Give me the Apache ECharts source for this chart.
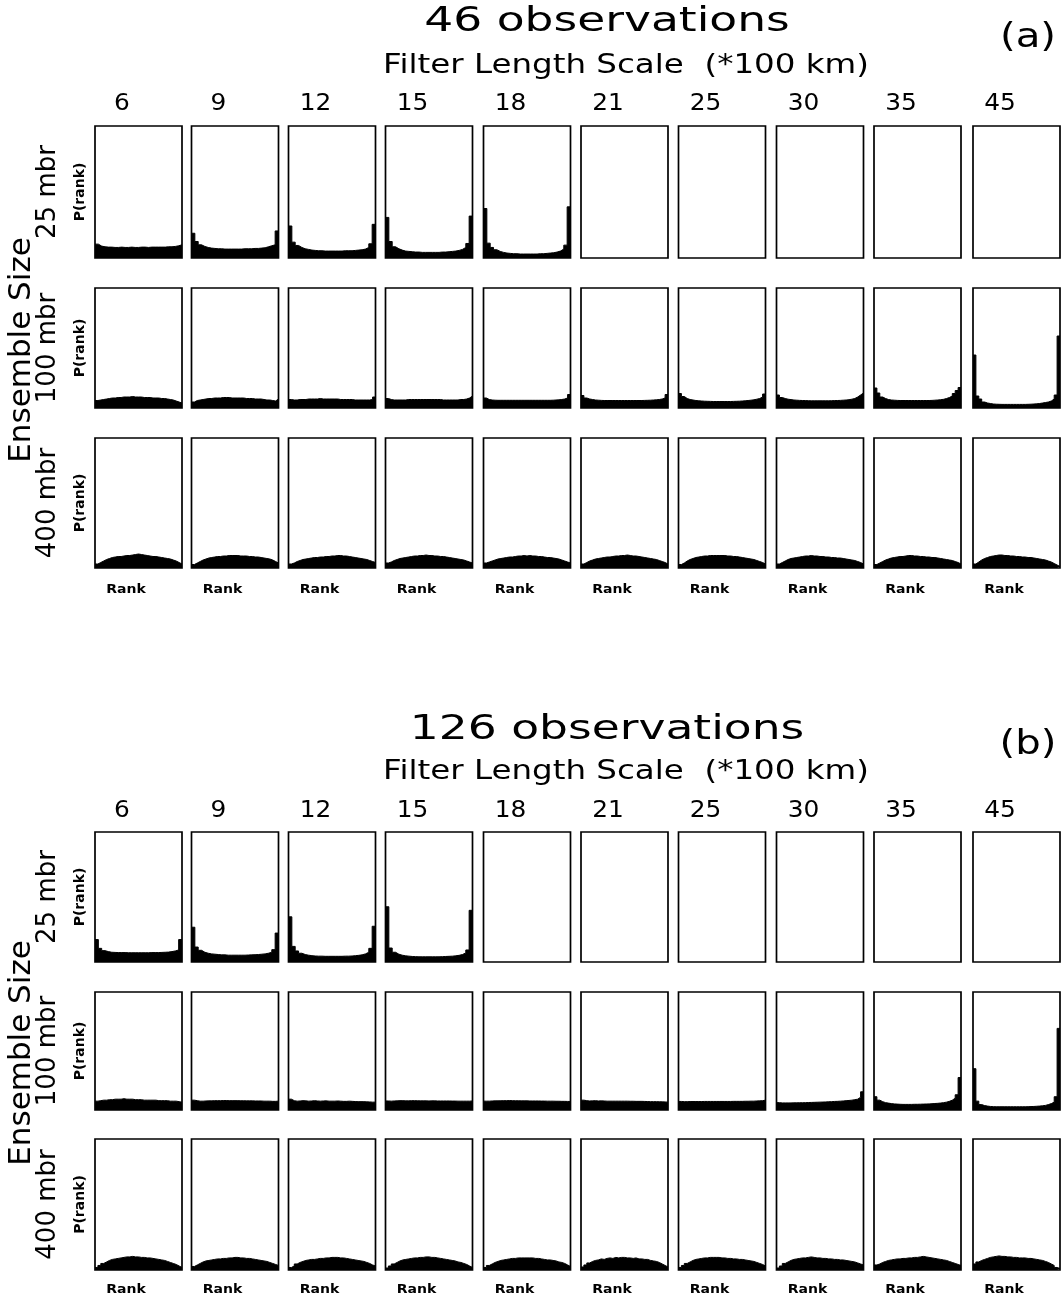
<!DOCTYPE html>
<html>
<head>
<meta charset="utf-8">
<script src="https://cdn.jsdelivr.net/npm/echarts@6/dist/echarts.min.js"></script>
<style>
html,body{margin:0;padding:0;background:#fff;}
#chart{width:1063px;height:1300px;}
</style>
</head>
<body>
<div id="chart"></div>
<script>
// ---------------- DATA ----------------
const filterScales = ['6','9','12','15','18','21','25','30','35','45'];
const ensembleSizes = ['25 mbr','100 mbr','400 mbr'];
const panelTitles = ['46 observations','126 observations'];
const panelTags = ['(a)','(b)'];
const axisTitle = 'Filter Length Scale  (*100 km)';
const yLabel = 'P(rank)';
const xLabel = 'Rank';
const sideTitle = 'Ensemble Size';

// P(rank) in percent. 25-member rows: 26 ranks. 100/400-member rows: resampled to 30 rank bins.
// Panel (a): 46 observations
const a25_6  = [4.2,3.6,3.4,3.3,3.3,3.2,3.2,3.3,3.2,3.2,3.3,3.2,3.2,3.3,3.3,3.2,3.3,3.3,3.3,3.3,3.3,3.4,3.4,3.5,3.7,4.0];
const a25_9  = [7.5,5.0,4.0,3.5,3.2,3.0,2.9,2.8,2.8,2.7,2.7,2.7,2.7,2.7,2.7,2.8,2.8,2.8,2.9,2.9,3.0,3.1,3.4,3.7,4.0,8.2];
const a25_12 = [9.7,4.8,3.8,3.2,2.8,2.6,2.4,2.3,2.2,2.2,2.1,2.1,2.1,2.1,2.1,2.1,2.2,2.2,2.2,2.3,2.4,2.5,2.7,3.2,4.3,10.2];
const a25_15 = [12.3,5.0,3.4,2.8,2.4,2.1,2.0,1.9,1.8,1.8,1.7,1.7,1.7,1.7,1.7,1.7,1.8,1.8,1.9,2.0,2.1,2.3,2.6,3.2,4.4,12.7];
const a25_18 = [15.0,4.5,3.2,2.5,2.0,1.7,1.5,1.4,1.3,1.3,1.2,1.2,1.2,1.2,1.2,1.2,1.3,1.3,1.4,1.5,1.6,1.8,2.1,2.7,3.9,15.5];
const a25_21 = null, a25_25 = null, a25_30 = null, a25_35 = null, a25_45 = null;

const a100_6  = [0.75,0.8,0.85,0.9,0.95,1.0,1.0,1.05,1.05,1.1,1.1,1.1,1.15,1.1,1.1,1.1,1.05,1.05,1.05,1.0,1.0,1.0,0.95,0.95,0.9,0.85,0.8,0.7,0.6,0.5];
const a100_9  = [0.6,0.75,0.8,0.85,0.9,0.95,0.95,1.0,1.0,1.0,1.05,1.05,1.05,1.0,1.0,1.0,1.0,1.0,0.95,0.95,0.95,0.9,0.9,0.9,0.85,0.8,0.8,0.75,0.7,0.9];
const a100_12 = [0.85,0.8,0.8,0.85,0.85,0.85,0.9,0.9,0.9,0.9,0.95,0.9,0.9,0.9,0.9,0.9,0.9,0.85,0.85,0.85,0.85,0.85,0.8,0.8,0.8,0.8,0.8,0.8,0.85,1.1];
const a100_15 = [0.95,0.85,0.8,0.8,0.8,0.8,0.8,0.85,0.85,0.85,0.85,0.85,0.85,0.85,0.85,0.85,0.85,0.85,0.85,0.8,0.8,0.8,0.8,0.8,0.8,0.85,0.85,0.9,1.0,1.2];
const a100_18 = [1.0,0.85,0.8,0.78,0.77,0.77,0.77,0.77,0.77,0.77,0.77,0.77,0.77,0.77,0.77,0.77,0.77,0.77,0.77,0.77,0.77,0.77,0.77,0.78,0.8,0.82,0.85,0.9,1.0,1.35];
const a100_21 = [1.25,1.0,0.9,0.85,0.8,0.78,0.76,0.75,0.75,0.75,0.75,0.75,0.75,0.75,0.75,0.75,0.75,0.75,0.75,0.75,0.75,0.76,0.77,0.78,0.8,0.82,0.85,0.9,1.0,1.35];
const a100_25 = [1.45,1.15,0.95,0.85,0.8,0.75,0.72,0.7,0.68,0.67,0.66,0.65,0.65,0.65,0.65,0.65,0.65,0.65,0.66,0.67,0.68,0.7,0.72,0.75,0.78,0.82,0.88,0.95,1.1,1.4];
const a100_30 = [1.3,1.05,0.95,0.88,0.84,0.8,0.78,0.76,0.75,0.74,0.73,0.72,0.72,0.72,0.72,0.72,0.72,0.72,0.73,0.74,0.75,0.76,0.78,0.8,0.83,0.88,0.95,1.1,1.3,1.5];
const a100_35 = [2.0,1.5,1.1,0.95,0.85,0.8,0.78,0.76,0.75,0.75,0.75,0.75,0.75,0.75,0.75,0.75,0.75,0.75,0.75,0.76,0.78,0.8,0.83,0.87,0.95,1.05,1.2,1.45,1.75,2.05];
const a100_45 = [5.3,1.2,0.9,0.6,0.5,0.45,0.4,0.38,0.37,0.36,0.36,0.36,0.36,0.36,0.36,0.36,0.36,0.36,0.37,0.38,0.4,0.42,0.45,0.5,0.55,0.6,0.7,0.9,1.3,7.2];

const a400_6  = [0.08,0.11,0.14,0.17,0.19,0.21,0.22,0.23,0.23,0.24,0.25,0.25,0.26,0.27,0.28,0.27,0.26,0.25,0.24,0.23,0.23,0.22,0.21,0.20,0.19,0.18,0.16,0.14,0.11,0.08];
const a400_9  = [0.07,0.10,0.13,0.16,0.18,0.20,0.21,0.22,0.23,0.23,0.24,0.24,0.25,0.25,0.25,0.25,0.24,0.24,0.24,0.23,0.23,0.22,0.22,0.21,0.20,0.19,0.18,0.16,0.13,0.10];
const a400_12 = [0.08,0.10,0.13,0.15,0.17,0.18,0.19,0.20,0.21,0.21,0.22,0.22,0.23,0.23,0.24,0.24,0.25,0.25,0.24,0.24,0.23,0.22,0.21,0.20,0.19,0.18,0.17,0.15,0.13,0.11];
const a400_15 = [0.10,0.12,0.15,0.17,0.19,0.20,0.21,0.22,0.23,0.24,0.24,0.25,0.25,0.26,0.25,0.25,0.24,0.24,0.23,0.23,0.22,0.21,0.20,0.19,0.18,0.17,0.16,0.14,0.12,0.10];
const a400_18 = [0.10,0.12,0.14,0.16,0.18,0.19,0.20,0.21,0.22,0.22,0.23,0.24,0.24,0.25,0.24,0.25,0.24,0.24,0.23,0.23,0.22,0.21,0.21,0.20,0.19,0.18,0.16,0.14,0.12,0.10];
const a400_21 = [0.08,0.11,0.14,0.16,0.18,0.19,0.20,0.21,0.22,0.22,0.23,0.24,0.24,0.25,0.25,0.26,0.25,0.24,0.24,0.23,0.22,0.21,0.20,0.19,0.18,0.17,0.15,0.13,0.11,0.08];
const a400_25 = [0.07,0.10,0.14,0.17,0.19,0.21,0.22,0.23,0.24,0.24,0.25,0.25,0.25,0.25,0.25,0.25,0.24,0.24,0.23,0.23,0.22,0.21,0.20,0.19,0.18,0.17,0.15,0.13,0.11,0.08];
const a400_30 = [0.08,0.11,0.14,0.17,0.19,0.20,0.21,0.22,0.23,0.24,0.24,0.25,0.24,0.24,0.23,0.23,0.22,0.22,0.21,0.21,0.20,0.20,0.19,0.18,0.17,0.16,0.15,0.13,0.11,0.08];
const a400_35 = [0.07,0.10,0.13,0.16,0.18,0.20,0.21,0.22,0.23,0.23,0.24,0.25,0.25,0.24,0.24,0.23,0.23,0.22,0.22,0.21,0.21,0.20,0.19,0.18,0.17,0.16,0.15,0.13,0.11,0.08];
const a400_45 = [0.08,0.12,0.16,0.19,0.21,0.23,0.24,0.25,0.26,0.26,0.25,0.25,0.24,0.24,0.23,0.23,0.22,0.22,0.21,0.21,0.20,0.19,0.18,0.17,0.16,0.14,0.12,0.09,0.06,0.03];

// Panel (b): 126 observations
const b25_6  = [6.9,4.2,3.5,3.2,3.0,2.95,2.9,2.9,2.9,2.85,2.85,2.85,2.85,2.85,2.85,2.85,2.9,2.9,2.9,2.95,3.0,3.05,3.2,3.4,3.7,6.9];
const b25_9  = [10.7,4.6,3.6,3.0,2.7,2.5,2.4,2.3,2.2,2.2,2.1,2.1,2.1,2.1,2.1,2.1,2.15,2.2,2.25,2.3,2.4,2.5,2.7,3.0,3.8,8.9];
const b25_12 = [13.9,4.8,3.4,2.7,2.3,2.1,1.95,1.85,1.8,1.8,1.75,1.75,1.75,1.75,1.75,1.75,1.8,1.8,1.85,1.95,2.05,2.2,2.5,3.0,4.2,11.0];
const b25_15 = [17.0,4.3,3.0,2.4,2.1,1.9,1.8,1.7,1.65,1.6,1.6,1.6,1.6,1.6,1.6,1.6,1.65,1.7,1.75,1.8,1.9,2.05,2.3,2.8,3.7,15.9];
const b25_18 = null, b25_21 = null, b25_25 = null, b25_30 = null, b25_35 = null, b25_45 = null;

const b100_6  = [0.9,0.95,1.0,1.0,1.05,1.05,1.1,1.1,1.1,1.15,1.1,1.1,1.1,1.05,1.05,1.05,1.0,1.0,1.0,1.0,1.0,0.95,0.95,0.95,0.95,0.9,0.9,0.9,0.85,0.8];
const b100_9  = [1.0,0.95,0.9,0.9,0.92,0.93,0.93,0.95,0.95,0.95,0.96,0.96,0.95,0.95,0.95,0.95,0.94,0.94,0.93,0.93,0.93,0.92,0.92,0.92,0.9,0.9,0.9,0.88,0.88,0.9];
const b100_12 = [1.1,0.95,0.9,0.92,0.95,0.93,0.9,0.92,0.95,0.92,0.9,0.92,0.93,0.9,0.9,0.9,0.92,0.9,0.88,0.88,0.9,0.88,0.86,0.85,0.85,0.85,0.83,0.82,0.8,0.8];
const b100_15 = [0.92,0.9,0.92,0.93,0.95,0.95,0.93,0.93,0.95,0.95,0.94,0.93,0.93,0.93,0.92,0.93,0.93,0.92,0.92,0.92,0.92,0.92,0.91,0.91,0.9,0.9,0.9,0.9,0.9,0.92];
const b100_18 = [0.9,0.9,0.92,0.93,0.93,0.94,0.95,0.95,0.96,0.95,0.94,0.94,0.93,0.93,0.93,0.92,0.92,0.92,0.92,0.91,0.91,0.9,0.9,0.9,0.89,0.89,0.88,0.88,0.87,0.87];
const b100_21 = [1.0,0.95,0.92,0.93,0.95,0.92,0.93,0.92,0.9,0.9,0.9,0.9,0.9,0.9,0.9,0.9,0.89,0.89,0.88,0.88,0.88,0.87,0.86,0.85,0.85,0.85,0.84,0.83,0.82,0.8];
const b100_25 = [0.87,0.85,0.85,0.86,0.86,0.86,0.86,0.86,0.87,0.87,0.87,0.87,0.87,0.87,0.87,0.87,0.87,0.87,0.88,0.88,0.88,0.88,0.89,0.89,0.9,0.9,0.92,0.93,0.95,1.0];
const b100_30 = [0.75,0.72,0.72,0.72,0.72,0.73,0.73,0.74,0.74,0.75,0.76,0.77,0.78,0.79,0.8,0.81,0.82,0.84,0.85,0.87,0.88,0.9,0.92,0.95,0.97,1.0,1.05,1.1,1.3,1.85];
const b100_35 = [1.35,1.0,0.85,0.75,0.7,0.65,0.62,0.6,0.58,0.57,0.57,0.57,0.57,0.58,0.58,0.59,0.6,0.61,0.62,0.64,0.66,0.68,0.71,0.75,0.8,0.88,1.0,1.2,1.55,3.3];
const b100_45 = [4.2,0.9,0.55,0.45,0.4,0.36,0.34,0.33,0.33,0.33,0.33,0.33,0.33,0.33,0.33,0.33,0.33,0.33,0.34,0.35,0.36,0.38,0.4,0.43,0.47,0.55,0.65,0.8,1.35,8.3];

const b400_6  = [0.05,0.09,0.13,0.16,0.19,0.21,0.22,0.23,0.24,0.25,0.26,0.26,0.27,0.26,0.26,0.25,0.25,0.24,0.24,0.23,0.22,0.21,0.20,0.19,0.17,0.15,0.13,0.11,0.08,0.05];
const b400_9  = [0.07,0.10,0.13,0.16,0.18,0.19,0.20,0.21,0.22,0.22,0.23,0.23,0.24,0.24,0.25,0.25,0.24,0.24,0.23,0.23,0.22,0.21,0.20,0.19,0.18,0.17,0.15,0.13,0.11,0.09];
const b400_12 = [0.05,0.08,0.12,0.15,0.17,0.19,0.20,0.21,0.21,0.22,0.23,0.23,0.24,0.24,0.25,0.25,0.25,0.24,0.24,0.23,0.22,0.21,0.20,0.19,0.18,0.17,0.15,0.13,0.10,0.08];
const b400_15 = [0.04,0.08,0.12,0.15,0.18,0.20,0.21,0.22,0.23,0.24,0.24,0.25,0.25,0.26,0.26,0.25,0.25,0.24,0.23,0.22,0.21,0.20,0.19,0.18,0.16,0.15,0.13,0.11,0.08,0.05];
const b400_18 = [0.05,0.09,0.12,0.15,0.17,0.19,0.20,0.21,0.22,0.23,0.23,0.24,0.24,0.24,0.24,0.24,0.24,0.23,0.23,0.22,0.21,0.20,0.20,0.19,0.18,0.16,0.15,0.13,0.10,0.07];
const b400_21 = [0.06,0.10,0.14,0.17,0.19,0.20,0.22,0.21,0.23,0.24,0.23,0.25,0.24,0.25,0.25,0.24,0.24,0.23,0.24,0.22,0.22,0.21,0.21,0.19,0.18,0.17,0.15,0.12,0.09,0.06];
const b400_25 = [0.05,0.09,0.13,0.16,0.19,0.21,0.22,0.23,0.24,0.24,0.25,0.25,0.25,0.25,0.24,0.24,0.23,0.23,0.22,0.22,0.21,0.21,0.20,0.19,0.18,0.17,0.15,0.13,0.11,0.08];
const b400_30 = [0.04,0.08,0.13,0.16,0.19,0.21,0.22,0.23,0.24,0.24,0.25,0.26,0.25,0.24,0.24,0.23,0.23,0.22,0.22,0.21,0.21,0.20,0.20,0.19,0.18,0.17,0.16,0.14,0.12,0.10];
const b400_35 = [0.10,0.12,0.15,0.17,0.19,0.20,0.21,0.22,0.22,0.23,0.23,0.24,0.24,0.25,0.25,0.26,0.27,0.26,0.25,0.24,0.23,0.22,0.21,0.20,0.19,0.17,0.15,0.13,0.11,0.09];
const b400_45 = [0.12,0.16,0.19,0.21,0.23,0.25,0.26,0.27,0.28,0.27,0.27,0.26,0.26,0.25,0.25,0.24,0.24,0.24,0.23,0.23,0.22,0.21,0.20,0.19,0.17,0.15,0.12,0.09,0.05,0.03];

// Axis ranges (percent) for each ensemble-size row
const rowYMax = [40, 12, 2.6];

// Table assembled from the named arrays: [panel][row][column]
const histograms = [
  [
    [a25_6,a25_9,a25_12,a25_15,a25_18,a25_21,a25_25,a25_30,a25_35,a25_45],
    [a100_6,a100_9,a100_12,a100_15,a100_18,a100_21,a100_25,a100_30,a100_35,a100_45],
    [a400_6,a400_9,a400_12,a400_15,a400_18,a400_21,a400_25,a400_30,a400_35,a400_45]
  ],
  [
    [b25_6,b25_9,b25_12,b25_15,b25_18,b25_21,b25_25,b25_30,b25_35,b25_45],
    [b100_6,b100_9,b100_12,b100_15,b100_18,b100_21,b100_25,b100_30,b100_35,b100_45],
    [b400_6,b400_9,b400_12,b400_15,b400_18,b400_21,b400_25,b400_30,b400_35,b400_45]
  ]
];

// ---------------- LAYOUT ----------------
const colLeft = [95, 191.5, 288.5, 385.5, 483.5, 581, 678.5, 776.5, 874, 973];
const colWidth = 87;
const panelRows = [
  [{top:126,h:132},{top:288,h:120},{top:438,h:130}],
  [{top:832,h:130},{top:992,h:118},{top:1139,h:131}]
];
const panelText = [
  {title:22, tag:38, sub:66, cols:104, rank:590, side:350},
  {title:730, tag:745, sub:772, cols:811, rank:1290, side:1053}
];

// Step outline for a histogram: each bin k spans [k, k+1]; the last bin is closed at its right edge.
function stepPoints(vals) {
  if (!vals) return [];
  const pts = vals.map((v, k) => [k, v]);
  pts.push([vals.length, vals[vals.length - 1]]);
  return pts;
}

const FONT = '"DejaVu Sans", sans-serif';
const grids = [], xAxes = [], yAxes = [], series = [], graphics = [];
let gi = 0;
for (let p = 0; p < 2; p++) {
  for (let r = 0; r < 3; r++) {
    const row = panelRows[p][r];
    for (let c = 0; c < 10; c++) {
      const vals = histograms[p][r][c];
      const nb = r === 0 ? 26 : 30;
      grids.push({left: colLeft[c], top: row.top, width: colWidth, height: row.h,
        show: true, borderColor: '#000', borderWidth: 1.7, backgroundColor: 'transparent', containLabel: false, z: 3});
      xAxes.push({type: 'value', gridIndex: gi, min: 0, max: nb, show: false});
      yAxes.push({type: 'value', gridIndex: gi, min: 0, max: rowYMax[r], show: false});
      series.push({type: 'line', xAxisIndex: gi, yAxisIndex: gi, data: stepPoints(vals),
        step: 'end', symbol: 'none', silent: true,
        lineStyle: {color: '#000', width: 1},
        areaStyle: {color: '#000', opacity: 1}});
      gi++;
    }
  }
}

function txt(x, y, text, font, opts) {
  return Object.assign({type:'text', x:x, y:y, silent:true,
    style:{text:text, font:font, fill:'#000', align:'center', verticalAlign:'middle'}}, opts || {});
}

for (let p = 0; p < 2; p++) {
  const t = panelText[p];
  graphics.push(txt(607, t.title, panelTitles[p], 'normal 34px '+FONT, {scaleX:1.34}));
  graphics.push(txt(1028, t.tag, panelTags[p], 'normal 33px '+FONT, {scaleX:1.22}));
  graphics.push(txt(626, t.sub, axisTitle, 'normal 26px '+FONT, {scaleX:1.25}));
  for (let c = 0; c < 10; c++) {
    graphics.push(txt(colLeft[c]+27, t.cols, filterScales[c], 'normal 23px '+FONT, {scaleX:1.08}));
    graphics.push(txt(colLeft[c]+31, t.rank, xLabel, 'bold 13px '+FONT, {scaleX:1.08}));
  }
  for (let r = 0; r < 3; r++) {
    const row = panelRows[p][r];
    const cy = row.top + row.h / 2;
    graphics.push(txt(48, cy, ensembleSizes[r], 'normal 26px '+FONT, {rotation:Math.PI/2}));
    graphics.push(txt(80, cy, yLabel, 'bold 14px '+FONT, {rotation:Math.PI/2}));
  }
  graphics.push(txt(22, t.side, sideTitle, 'normal 31px '+FONT, {rotation:Math.PI/2}));
}

const chart = echarts.init(document.getElementById('chart'), null, {renderer: 'canvas'});
chart.setOption({
  animation: false,
  backgroundColor: '#fff',
  grid: grids,
  xAxis: xAxes,
  yAxis: yAxes,
  series: series,
  graphic: graphics
});
</script>
</body>
</html>
